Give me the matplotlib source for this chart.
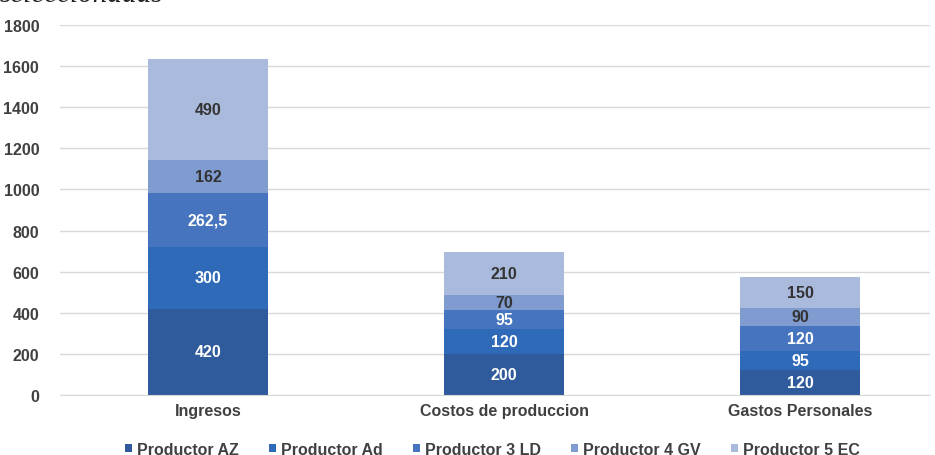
import matplotlib.pyplot as plt
import numpy as np

plt.rcParams["font.family"] = ["Liberation Sans", "DejaVu Sans"]

categories = ["Ingresos", "Costos de produccion", "Gastos Personales"]
series_names = ["Productor AZ", "Productor Ad", "Productor 3 LD", "Productor 4 GV", "Productor 5 EC"]
productor_az = [420, 200, 120]
productor_ad = [300, 120, 95]
productor_3ld = [262.5, 95, 120]
productor_4gv = [162, 70, 90]
productor_5ec = [490, 210, 150]
series = [productor_az, productor_ad, productor_3ld, productor_4gv, productor_5ec]

colors = ["#2F5A9B", "#2F6AB8", "#4674BE", "#7F9BD0", "#AABADD"]
label_colors = ["white", "white", "white", "#333333", "#333333"]

fig = plt.figure(figsize=(9.35, 4.56), dpi=100, facecolor="white")
ax = fig.add_axes([60 / 935, 60 / 456, 870 / 935, 370 / 456])

x = np.arange(len(categories))
bottom = np.zeros(len(categories))
for name, vals, c, lc in zip(series_names, series, colors, label_colors):
    vals = np.array(vals, dtype=float)
    ax.bar(x, vals, width=0.405, bottom=bottom, color=c, label=name, zorder=2)
    for xi, b, v in zip(x, bottom, vals):
        txt = f"{v:g}".replace(".", ",")
        ax.text(xi, b + v / 2, txt, ha="center", va="center", color=lc,
                fontsize=11.5, fontweight="bold", zorder=3)
    bottom += vals

ax.set_ylim(0, 1800)
ax.set_xlim(-0.5, (930 - 208) / 296)
ax.set_yticks(range(0, 1801, 200))
ax.grid(axis="y", color="#D9D9D9", linewidth=1, zorder=0)
for s in ["top", "right", "left"]:
    ax.spines[s].set_visible(False)
ax.spines["bottom"].set_color("#D9D9D9")
ax.tick_params(axis="both", length=0, labelsize=11.5, labelcolor="#404040")
ax.tick_params(axis="y", pad=15)
ax.tick_params(axis="x", pad=6)
ax.set_xticks(x)
ax.set_xticklabels(categories, fontweight="bold")
for t in ax.get_yticklabels():
    t.set_fontweight("bold")

leg = ax.legend(loc="center", bbox_to_anchor=(0.497, -0.146), ncol=5, frameon=False,
                borderpad=0, handlelength=0.45, handleheight=0.45, handletextpad=0.3,
                columnspacing=1.9, prop={"weight": "bold", "size": 11.5})
for t in leg.get_texts():
    t.set_color("#404040")

fig.text(0.0, 1.012, "seleccionadas", fontsize=21, fontstyle="italic", family="Liberation Serif",
         va="center", ha="left", color="#222222")

fig.savefig("out.png", dpi=100, facecolor="white")
